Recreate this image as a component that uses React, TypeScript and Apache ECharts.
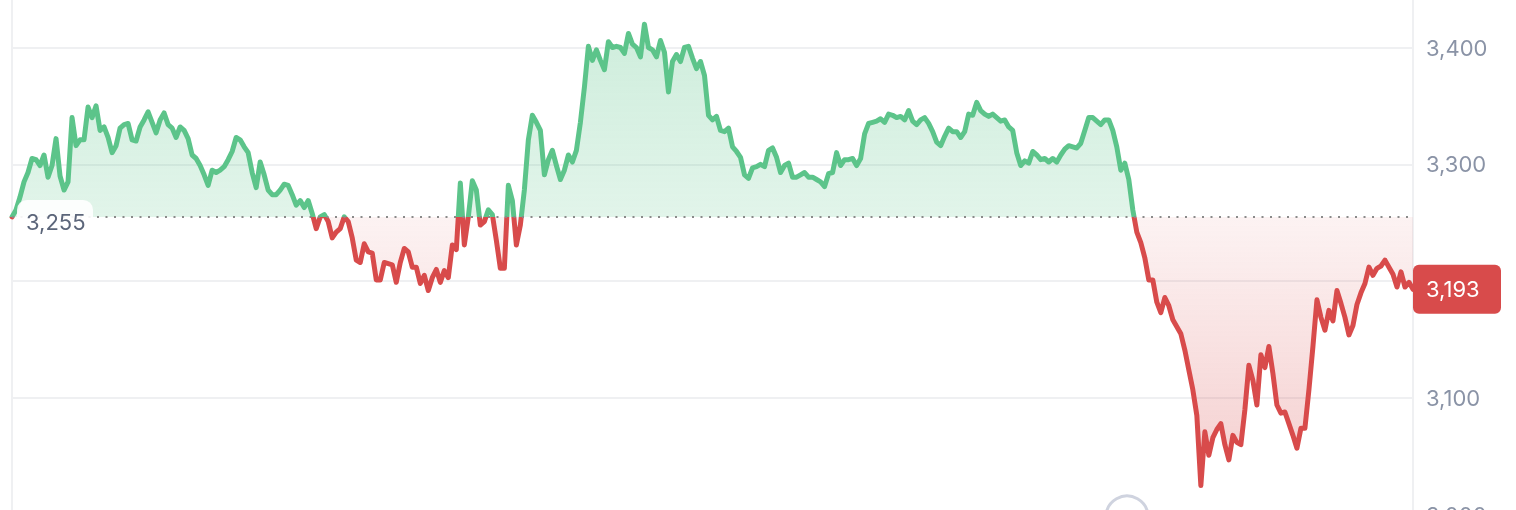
import React, { useEffect, useRef } from "react";
import * as echarts from "echarts";

// Reference (opening) price of the period
const openPrice = 3255;

// Price series, evenly spaced in time
const prices = [
  3255, 3261, 3272, 3285, 3293, 3305, 3304, 3299, 3308, 3289,
  3299, 3322, 3290, 3278, 3285, 3340, 3316, 3321, 3321, 3349,
  3340, 3350, 3329, 3332, 3323, 3310, 3316, 3331, 3334, 3335,
  3321, 3320, 3332, 3338, 3345, 3336, 3327, 3338, 3344, 3334,
  3331, 3323, 3332, 3329, 3322, 3308, 3305, 3299, 3291, 3282,
  3295, 3293, 3295, 3298, 3304, 3311, 3323, 3321, 3315, 3310,
  3293, 3280, 3302, 3291, 3278, 3274, 3274, 3278, 3283, 3282,
  3274, 3265, 3269, 3263, 3269, 3258, 3245, 3255, 3257, 3251,
  3237, 3242, 3245, 3255, 3251, 3237, 3218, 3216, 3232, 3225,
  3224, 3201, 3201, 3216, 3215, 3214, 3199, 3216, 3228, 3225,
  3212, 3212, 3198, 3205, 3192, 3203, 3210, 3199, 3209, 3203,
  3231, 3227, 3284, 3231, 3255, 3286, 3278, 3248, 3251, 3261,
  3257, 3235, 3211, 3211, 3282, 3269, 3231, 3248, 3278, 3321,
  3342, 3336, 3329, 3291, 3304, 3312, 3299, 3287, 3295, 3308,
  3302, 3312, 3336, 3366, 3401, 3389, 3398, 3389, 3381, 3405,
  3400, 3401, 3400, 3395, 3412, 3403, 3400, 3392, 3420, 3400,
  3398, 3392, 3406, 3396, 3362, 3388, 3394, 3388, 3400, 3401,
  3391, 3382, 3388, 3376, 3342, 3338, 3341, 3329, 3328, 3331,
  3315, 3311, 3306, 3291, 3288, 3297, 3298, 3300, 3298, 3312,
  3314, 3306, 3293, 3299, 3301, 3289, 3289, 3291, 3293, 3289,
  3289, 3287, 3285, 3281, 3292, 3293, 3310, 3299, 3304, 3304,
  3305, 3299, 3305, 3326, 3335, 3336, 3337, 3339, 3336, 3343,
  3342, 3340, 3341, 3338, 3346, 3337, 3334, 3338, 3340, 3335,
  3328, 3319, 3316, 3324, 3331, 3328, 3328, 3323, 3328, 3343,
  3342, 3353, 3346, 3343, 3341, 3343, 3340, 3337, 3338, 3332,
  3329, 3310, 3299, 3303, 3301, 3311, 3308, 3304, 3305, 3302,
  3305, 3302, 3308, 3313, 3316, 3315, 3314, 3318, 3329, 3340,
  3340, 3337, 3334, 3338, 3338, 3329, 3315, 3295, 3301, 3287,
  3261, 3242, 3233, 3220, 3201, 3201, 3182, 3173, 3186, 3179,
  3167, 3161, 3155, 3141, 3124, 3107, 3085, 3025, 3071, 3051,
  3066, 3073, 3078, 3060, 3047, 3068, 3062, 3060, 3090, 3128,
  3115, 3094, 3137, 3126, 3144, 3121, 3094, 3087, 3088, 3078,
  3068, 3057, 3074, 3074, 3107, 3144, 3184, 3169, 3158, 3175,
  3166, 3192, 3181, 3169, 3154, 3162, 3180, 3190, 3198, 3212,
  3205, 3211, 3213, 3218, 3212, 3206, 3195, 3208, 3195, 3199,
  3193,
];

// Time steps (categories)
const timeSteps = prices.map((_, i) => String(i));

// Price axis ticks
const axisMin = 3000;
const axisMax = 3500;
const axisInterval = 100;

const fmt = (v: number) => v.toLocaleString("en-US");

export default function App() {
  const ref = useRef<HTMLDivElement>(null);

  useEffect(() => {
    const chart = echarts.init(ref.current!, null, { renderer: "svg" });
    const green = "#5cc48a";
    const red = "#d84b4b";
    const maxV = Math.max(...prices, openPrice);
    const minV = Math.min(...prices, openPrice);
    const f = (maxV - openPrice) / (maxV - minV);
    const last = prices[prices.length - 1];

    const lineGrad = new echarts.graphic.LinearGradient(0, 0, 0, 1, [
      { offset: 0, color: green },
      { offset: f, color: green },
      { offset: f, color: red },
      { offset: 1, color: red },
    ]);
    const areaGrad = new echarts.graphic.LinearGradient(0, 0, 0, 1, [
      { offset: 0, color: "rgba(92,196,138,0.30)" },
      { offset: f, color: "rgba(92,196,138,0.18)" },
      { offset: f, color: "rgba(216,75,75,0.07)" },
      { offset: 1, color: "rgba(216,75,75,0.27)" },
    ]);

    chart.setOption({
      animation: false,
      grid: {
        left: 12,
        right: 103,
        top: -69.3,
        bottom: -4.8,
        show: true,
        borderColor: "#eff0f2",
        borderWidth: 2,
        outerBoundsMode: "none",
        containLabel: false,
      },
      xAxis: {
        type: "category",
        data: timeSteps,
        boundaryGap: false,
        axisLine: { show: false },
        axisTick: { show: false },
        axisLabel: { show: false },
        splitLine: { show: false },
      },
      yAxis: {
        type: "value",
        position: "right",
        min: axisMin,
        max: axisMax,
        interval: axisInterval,
        axisLine: { show: false },
        axisTick: { show: false },
        splitLine: { lineStyle: { color: "#eff0f2", width: 2 } },
        axisLabel: {
          margin: 13,
          color: "#8a93a6",
          fontSize: 22,
          fontFamily: "Inter",
          showMaxLabel: false,
          formatter: (v: number) =>
            v >= axisMax || Math.abs(v - last) < 20 ? "" : fmt(v),
        },
      },
      series: [
        {
          type: "line",
          data: prices,
          showSymbol: false,
          symbol: "none",
          lineStyle: { width: 5, color: lineGrad, join: "round", cap: "round" },
          itemStyle: { color: green },
          areaStyle: { origin: openPrice, color: areaGrad, opacity: 1 },
          markLine: {
            silent: true,
            symbol: ["none", "none"],
            label: { show: false },
            lineStyle: { color: "#8a8a8a", type: [2, 6.5], width: 2 },
            data: [{ yAxis: openPrice }],
          },
        },
      ],
    });

    const yLast = chart.convertToPixel({ yAxisIndex: 0 }, last) as number;
    const yOpen = chart.convertToPixel({ yAxisIndex: 0 }, openPrice) as number;

    chart.setOption({
      graphic: [
        {
          type: "rect",
          z: 100,
          shape: { x: 17, y: yOpen - 17, width: 76, height: 44, r: 10 },
          style: { fill: "rgba(255,255,255,0.9)" },
        },
        {
          type: "text",
          z: 101,
          x: 26,
          y: yOpen + 5,
          style: {
            text: fmt(openPrice),
            fill: "#5c667a",
            font: "22px Inter",
            verticalAlign: "middle",
          },
        },
        {
          type: "rect",
          z: 100,
          shape: { x: 1413, y: yLast - 24.5, width: 88, height: 49, r: 6 },
          style: { fill: red },
        },
        {
          type: "text",
          z: 101,
          x: 1426,
          y: yLast,
          style: {
            text: fmt(last),
            fill: "#ffffff",
            font: "22px Inter",
            verticalAlign: "middle",
          },
        },
        {
          type: "circle",
          z: 100,
          shape: { cx: 1127, cy: 517, r: 21 },
          style: { fill: "#ffffff", stroke: "#cfd3df", lineWidth: 3 },
        },
      ],
    });

    return () => chart.dispose();
  }, []);

  return (
    <div
      ref={ref}
      style={{ position: "fixed", left: 0, top: 0, width: 1516, height: 510 }}
    />
  );
}
